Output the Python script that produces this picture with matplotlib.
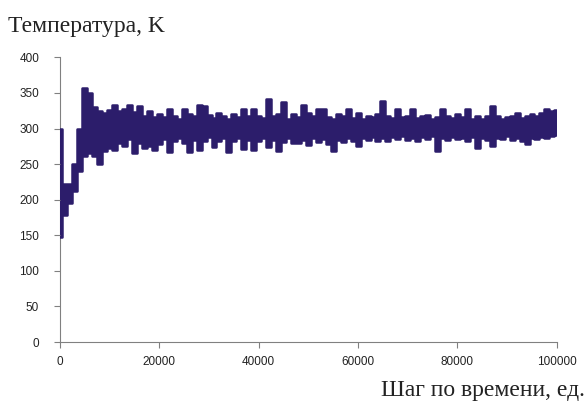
import numpy as np
import matplotlib
matplotlib.use('Agg')
import matplotlib.pyplot as plt

# шаг по времени, верхняя и нижняя граница колебаний температуры (через 1000 шагов)
steps = np.arange(0, 100001, 1000)
temp_hi = [300, 222, 222, 250, 300, 357, 350, 330, 325, 322,
           326, 333, 325, 327, 333, 323, 332, 318, 325, 316,
           320, 316, 328, 318, 314, 328, 320, 317, 333, 332,
           319, 315, 322, 318, 313, 320, 316, 328, 317, 328,
           318, 315, 342, 318, 320, 337, 314, 320, 316, 333,
           322, 317, 328, 327, 316, 314, 320, 317, 327, 315,
           322, 314, 318, 316, 320, 338, 317, 315, 328, 316,
           318, 328, 315, 317, 319, 314, 316, 327, 318, 315,
           320, 316, 328, 314, 317, 313, 318, 331, 317, 314,
           316, 318, 322, 315, 317, 320, 318, 322, 327, 324,
           326]
temp_lo = [148, 178, 195, 212, 240, 262, 265, 262, 250, 268,
           272, 270, 280, 275, 285, 265, 280, 272, 275, 270,
           278, 285, 267, 282, 286, 279, 267, 284, 270, 283,
           288, 274, 283, 287, 267, 282, 286, 271, 284, 270,
           283, 287, 274, 284, 268, 281, 286, 279, 280, 284,
           277, 287, 281, 285, 278, 268, 284, 281, 287, 282,
           276, 286, 284, 288, 283, 286, 282, 288, 285, 289,
           284, 287, 282, 288, 285, 289, 268, 286, 284, 288,
           285, 287, 283, 288, 273, 286, 284, 275, 287, 285,
           289, 284, 287, 283, 278, 287, 285, 288, 286, 289,
           291]
y_ticks = [0, 50, 100, 150, 200, 250, 300, 350, 400]
x_ticks = [0, 20000, 40000, 60000, 80000, 100000]

line_color = '#2c1d6b'
fig = plt.figure(figsize=(5.88, 4.01), dpi=100, facecolor='white')
ax = fig.add_axes([0.102, 0.147, 0.845, 0.71])
ax.fill_between(steps, temp_lo, temp_hi, step='mid', color=line_color, linewidth=0)
ax.plot(steps, temp_hi, drawstyle='steps-mid', color=line_color, linewidth=1.8)
ax.plot(steps, temp_lo, drawstyle='steps-mid', color=line_color, linewidth=1.8)

ax.set_xlim(0, 100000)
ax.set_ylim(0, 400)
ax.set_xticks(x_ticks)
ax.set_yticks(y_ticks)
ax.set_xticklabels([str(t) for t in x_ticks])
for s in ['top', 'right']:
    ax.spines[s].set_visible(False)
for s in ['left', 'bottom']:
    ax.spines[s].set_color('#808080')
    ax.spines[s].set_linewidth(0.8)
    ax.spines[s].set_zorder(0.5)
ax.tick_params(direction='out', length=4, width=0.8, color='#808080',
               labelsize=8.5, labelcolor='#222222')
ax.tick_params(axis='y', pad=11)
ax.tick_params(axis='x', pad=6)
for lab in ax.get_xticklabels() + ax.get_yticklabels():
    lab.set_family('Liberation Sans')

fig.text(0.0136, 0.920, 'Температура, K', family='Liberation Serif', fontsize=17,
         ha='left', va='baseline', color='#222222')
fig.text(0.995, 0.0125, 'Шаг по времени, ед.', family='Liberation Serif', fontsize=17,
         ha='right', va='baseline', color='#222222')

fig.savefig('out.png', dpi=100)
